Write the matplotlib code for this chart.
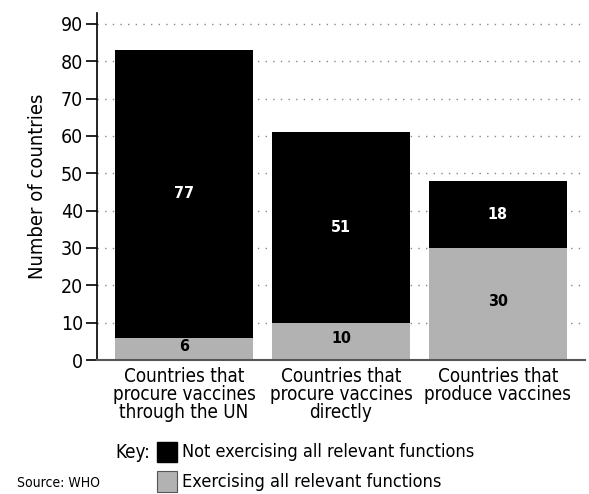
import matplotlib.pyplot as plt
import numpy as np
from matplotlib.patches import Rectangle

categories = [
    "Countries that\nprocure vaccines\nthrough the UN",
    "Countries that\nprocure vaccines\ndirectly",
    "Countries that\nproduce vaccines",
]
exercising = [6, 10, 30]
not_exercising = [77, 51, 18]
yticks = [0, 10, 20, 30, 40, 50, 60, 70, 80, 90]

plt.rcParams["font.family"] = ["DejaVu Sans"]
plt.rcParams["font.stretch"] = "condensed"

fig = plt.figure(figsize=(5.89, 4.94), dpi=100)
ax = fig.add_axes([97 / 589, 1 - 360 / 494, (585 - 97) / 589, (360 - 13) / 494])

x = np.arange(len(categories))
width = 0.88
ax.bar(x, exercising, width, color="#b2b2b2", zorder=2)
ax.bar(x, not_exercising, width, bottom=exercising, color="black", zorder=2)

# segment values, bold, centred in each part of the stack
for xi, lo, hi in zip(x, exercising, not_exercising):
    ax.text(xi, lo / 2 + 0.7, str(lo), ha="center", va="center", fontsize=11.5,
            fontweight="bold", color="black")
    ax.text(xi, lo + hi / 2, str(hi), ha="center", va="center", fontsize=11.5,
            fontweight="bold", color="white")

ax.set_xlim(-0.555, 2.555)
ax.set_ylim(0, 92.9)
ax.set_yticks(yticks)
ax.yaxis.grid(True, linestyle=(0, (1, 4.5)), color="#888888", linewidth=1, zorder=0)
ax.set_xticks(x)
ax.set_xticklabels(categories, fontsize=13.5, linespacing=0.95)
ax.tick_params(axis="x", length=0, pad=5)
ax.tick_params(axis="y", length=8, width=1.2, labelsize=14, pad=2)
for s in ["top", "right"]:
    ax.spines[s].set_visible(False)
ax.spines["left"].set_linewidth(1.2)
ax.spines["bottom"].set_color("#555555")
ax.spines["bottom"].set_linewidth(1.5)
ax.set_ylabel("Number of countries", fontsize=14.5, labelpad=10)

# key
fig.text(115 / 589, 1 - 452 / 494, "Key:", fontsize=13.5, va="center")
fig.patches.append(Rectangle((157 / 589, 1 - 462 / 494), 20 / 589, 20 / 494,
                             transform=fig.transFigure, facecolor="black",
                             edgecolor="black", figure=fig))
fig.text(182 / 589, 1 - 452 / 494, "Not exercising all relevant functions",
         fontsize=13, va="center")
fig.patches.append(Rectangle((157 / 589, 1 - 492 / 494), 20 / 589, 21 / 494,
                             transform=fig.transFigure, facecolor="#b2b2b2",
                             edgecolor="#555555", linewidth=0.8, figure=fig))
fig.text(182 / 589, 1 - 482 / 494, "Exercising all relevant functions",
         fontsize=13, va="center")
fig.text(17 / 589, 1 - 483 / 494, "Source: WHO", fontsize=10, va="center")

fig.savefig("out.png", dpi=100)
